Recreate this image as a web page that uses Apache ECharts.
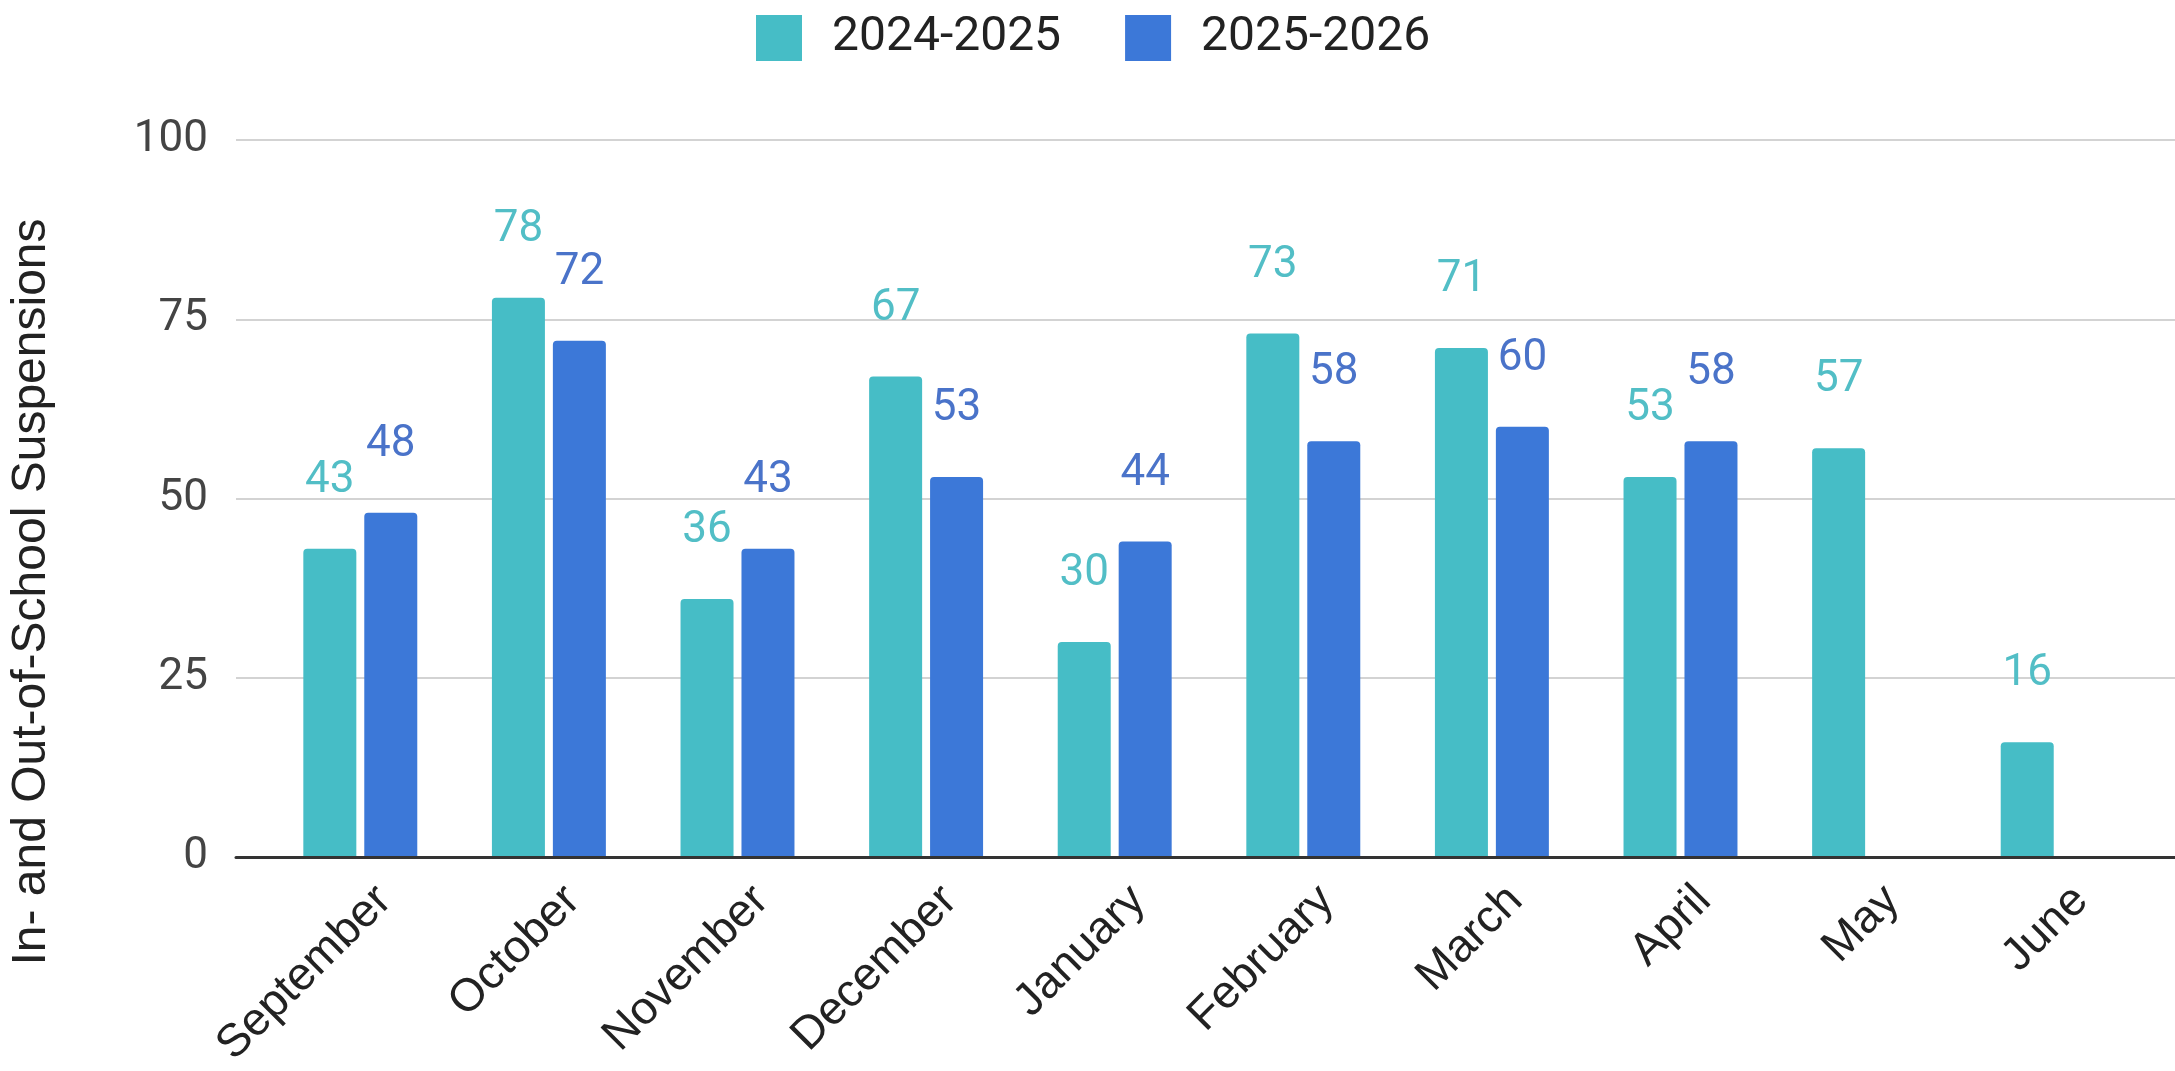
<!DOCTYPE html>
<html>
<head>
<meta charset="utf-8">
<script src="https://cdn.jsdelivr.net/npm/echarts@6/dist/echarts.min.js"></script>
<style>
  html, body { margin: 0; padding: 0; background: #fff; }
  #main { width: 2175px; height: 1071px; }
</style>
</head>
<body>
<div id="main"></div>
<script>
// data
const months = ['September', 'October', 'November', 'December', 'January', 'February', 'March', 'April', 'May', 'June']
const seriesNames = ['2024-2025', '2025-2026']
const season2425 = [43, 78, 36, 67, 30, 73, 71, 53, 57, 16]
const season2526 = [48, 72, 43, 53, 44, 58, 60, 58, null, null]
const yMin = 0
const yMax = 100
const yStep = 25
const yTitle = 'In- and Out-of-School Suspensions'

const colors = ['#46bdc6', '#3c78d8']
const labelColors = ['#52bec6', '#4a73c9']

const chart = echarts.init(document.getElementById('main'))

function barSeries (name, data, i) {
  return {
    name: name,
    type: 'bar',
    xAxisIndex: 1,
    yAxisIndex: 1,
    data: data,
    barWidth: 53,
    barGap: '15%',
    itemStyle: {
      color: colors[i],
      borderRadius: [4, 4, 0, 0]
    },
    label: {
      show: true,
      position: 'top',
      distance: 46,
      fontFamily: 'Roboto',
      fontSize: 44,
      color: labelColors[i]
    }
  }
}

const option = {
  animation: false,
  color: colors,
  legend: {
    data: seriesNames,
    left: 756,
    top: 14,
    padding: 0,
    icon: 'rect',
    itemWidth: 46,
    itemHeight: 46,
    itemGap: 64,
    textStyle: {
      fontFamily: 'Roboto',
      fontSize: 48,
      color: '#222',
      padding: [0, 0, 0, 25]
    }
  },
  grid: [
    // gridlines + y labels
    { left: 236, right: 0, top: 140, bottom: 214 },
    // bars
    { left: 266, width: 1886, top: 140, bottom: 214 },
    // y title only
    { left: 236, right: 0, top: 140, bottom: 27 },
    // month labels, nudged right like the original
    { left: 290, width: 1886, top: 140, bottom: 214 }
  ],
  xAxis: [
    {
      gridIndex: 0,
      type: 'value',
      min: 0,
      max: 1,
      z: 10,
      axisLine: { show: true, lineStyle: { color: '#333', width: 3 } },
      axisTick: { show: false },
      axisLabel: { show: false },
      splitLine: { show: false }
    },
    {
      gridIndex: 1,
      type: 'category',
      data: months,
      axisLine: { show: false },
      axisTick: { show: false },
      axisLabel: { show: false }
    },
    { gridIndex: 2, type: 'value', show: false },
    {
      gridIndex: 3,
      type: 'category',
      data: months,
      axisLine: { show: false },
      axisTick: { show: false },
      axisLabel: {
        interval: 0,
        rotate: 45,
        margin: 38,
        fontFamily: 'Liberation Sans',
        fontSize: 46,
        color: '#222'
      }
    }
  ],
  yAxis: [
    {
      gridIndex: 0,
      type: 'value',
      min: yMin,
      max: yMax,
      interval: yStep,
      axisLine: { show: false },
      axisTick: { show: false },
      axisLabel: {
        margin: 28,
        fontFamily: 'Roboto',
        fontSize: 44,
        color: '#444'
      },
      splitLine: { lineStyle: { color: '#d3d3d3', width: 2 } }
    },
    { gridIndex: 1, type: 'value', min: yMin, max: yMax, show: false },
    {
      gridIndex: 2,
      type: 'value',
      name: yTitle,
      nameLocation: 'middle',
      nameRotate: 90,
      nameGap: 197,
      nameTextStyle: {
        fontFamily: 'Liberation Sans',
        fontSize: 48,
        color: '#222'
      },
      axisLine: { show: false },
      axisTick: { show: false },
      axisLabel: { show: false },
      splitLine: { show: false }
    },
    { gridIndex: 3, type: 'value', min: yMin, max: yMax, show: false }
  ],
  series: [
    barSeries(seriesNames[0], season2425, 0),
    barSeries(seriesNames[1], season2526, 1)
  ]
}

chart.setOption(option)
</script>
</body>
</html>
